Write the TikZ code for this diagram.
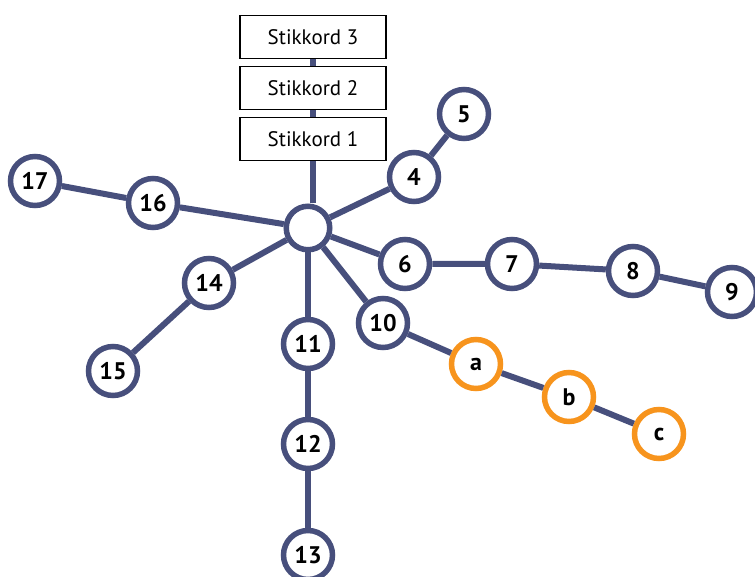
\documentclass[tikz,border=0pt]{standalone}
\usepackage{fontspec}
\setmainfont{PT Sans}
\usepackage{tikz}
\usetikzlibrary{calc}
\definecolor{bleu}{HTML}{474F7C}
\definecolor{orange}{HTML}{F7941D}
\tikzset{
    arete/.style={draw=bleu,line width=6pt},
    noeud/.style={circle,draw=bleu,fill=white,line width=5.5pt,outer sep=2.75pt,
      minimum size=49pt,inner sep=0pt,font=\fontsize{24}{24}\selectfont\bfseries},
    feuille/.style={noeud,draw=orange},
    centre/.style={noeud,minimum size=43.5pt},
    stikkord/.style={rectangle,draw=black,fill=white,line width=1.3pt,
      minimum width=146pt,minimum height=43pt,inner sep=0pt,font=\fontsize{21}{21}\selectfont},
  }
\begin{document}
\begin{tikzpicture}[x=1pt,y=-1pt]
				  \useasboundingbox (0,0) rectangle (755,577);
				  %CENTRE et stikkord
				  \node[centre] (hub) at (308,228) {};
				  \node[stikkord] (s1) at (313,139) {Stikkord 1};
				  \node[stikkord] (s2) at (313,88) {Stikkord 2};
				  \node[stikkord] (s3) at (313,37) {Stikkord 3};

				  %BRANCHES
				  \node[noeud] (n4) at (414,177) {4};
				  \node[noeud] (n5) at (464,114) {5};
				  \node[noeud] (n6) at (405,264) {6};
				  \node[noeud] (n7) at (512,264) {7};
				  \node[noeud] (n8) at (633,271) {8};
				  \node[noeud] (n9) at (732,292) {9};
				  \node[noeud] (n10) at (383,323) {10};
				  \node[noeud] (n11) at (308,344) {11};
				  \node[noeud] (n12) at (308,444) {12};
				  \node[noeud] (n13) at (308,555) {13};
				  \node[noeud] (n14) at (209,283) {14};
				  \node[noeud] (n15) at (113,371) {15};
				  \node[noeud] (n16) at (153,203) {16};
				  \node[noeud] (n17) at (35,181) {17};

				  %a,b,c
				  \node[feuille] (a) at (476,364) {a};
				  \node[feuille] (b) at (569,397) {b};
				  \node[feuille] (c) at (659,434) {c};

				  %ARETES
				  \draw[arete] (s1.south) -- (s1.south |- hub.north);
				  \draw[arete] (s1.north) -- (s2.south);
				  \draw[arete] (s2.north) -- (s3.south);
				  \draw[arete] (hub) -- (n4) -- (n5);
				  \draw[arete] (hub) -- (n6) -- (n7) -- (n8) -- (n9);
				  \draw[arete] (hub) -- (n10) -- (a) -- (b) -- (c);
				  \draw[arete] (hub) -- (n11) -- (n12) -- (n13);
				  \draw[arete] (hub) -- (n14) -- (n15);
				  \draw[arete] (hub) -- (n16) -- (n17);
				  \end{tikzpicture}
\end{document}
